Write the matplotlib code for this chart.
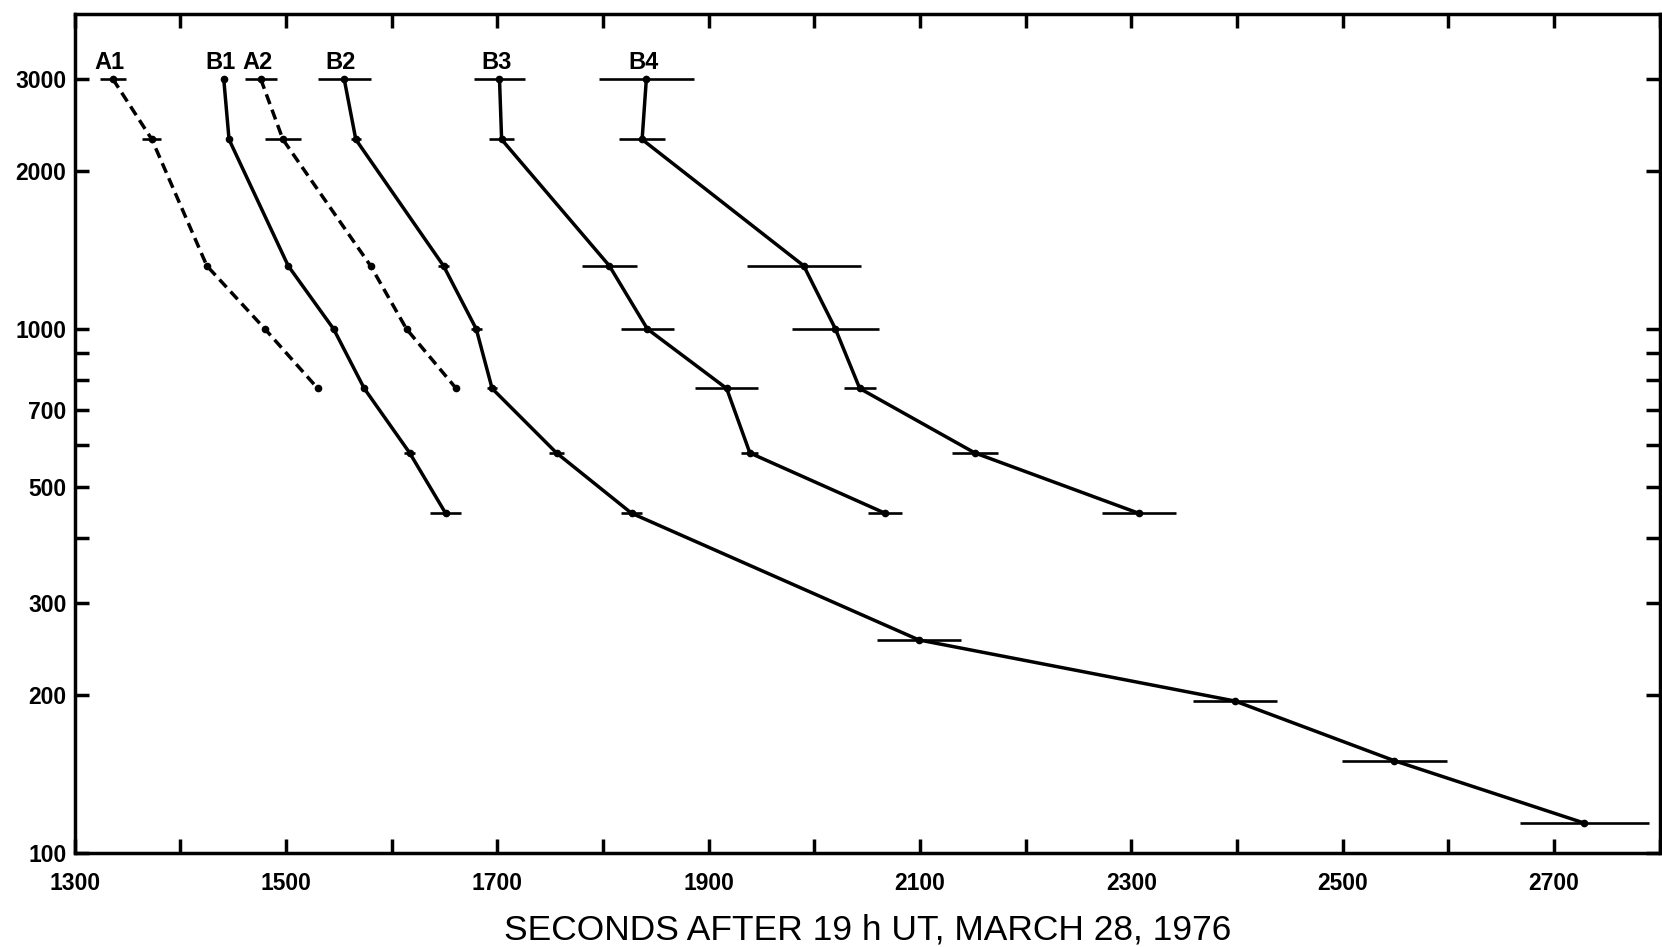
import matplotlib.pyplot as plt
from matplotlib.ticker import NullLocator

plt.rcParams['font.family'] = ['Liberation Sans', 'DejaVu Sans']

# frequency levels (y) shared by all tracks
levels = [3000, 2300, 1320, 1000, 770, 580, 445, 255, 195, 150, 114]

names = ['A1', 'B1', 'A2', 'B2', 'B3', 'B4']
a1_t = [1336, 1373, 1425, 1480, 1530]
a1_err = [12, 9, 0, 0, 0]
b1_t = [1441, 1446, 1502, 1545, 1574, 1617, 1651]
b1_err = [3, 3, 3, 3, 3, 5, 15]
a2_t = [1476, 1497, 1580, 1614, 1661]
a2_err = [15, 17, 0, 0, 0]
b2_t = [1555, 1566, 1649, 1680, 1695, 1756, 1827, 2099, 2398, 2549, 2729]
b2_err = [25, 5, 5, 5, 5, 7, 10, 40, 40, 50, 61]
b3_t = [1702, 1704, 1806, 1842, 1917, 1939, 2067]
b3_err = [24, 12, 26, 25, 30, 8, 16]
b4_t = [1841, 1837, 1990, 2020, 2043, 2152, 2307]
b4_err = [45, 22, 54, 41, 15, 22, 35]

times = [a1_t, b1_t, a2_t, b2_t, b3_t, b4_t]
errs = [a1_err, b1_err, a2_err, b2_err, b3_err, b4_err]

yticks = [100, 200, 300, 400, 500, 600, 700, 800, 900, 1000, 2000, 3000]
ylabels = ['100', '200', '300', '', '500', '', '700', '', '', '1000', '2000', '3000']
xticks = list(range(1300, 2801, 100))
xlabels = [str(v) if (v // 100) % 2 == 1 and v < 2800 else '' for v in xticks]

fig = plt.figure(figsize=(16.62, 9.47), dpi=100)
ax = fig.add_axes([0.045, 0.0993, 0.9535, 0.8864])

for name, t, e in zip(names, times, errs):
    y = levels[:len(t)]
    ls = '--' if name.startswith('A') else '-'
    line, = ax.plot(t, y, ls, color='black', lw=2.5, marker='o', ms=4.5)
    if ls == '--':
        line.set_dashes((3.0, 1.7))
    ax.errorbar(t, y, xerr=e, fmt='none', ecolor='black', elinewidth=1.9, capsize=0)
    ax.text(t[0] - 3, 3230, name, ha='center', va='center', fontsize=17, fontweight='bold')

ax.set_yscale('log')
ax.set_xlim(1300, 2800)
ax.set_ylim(100, 4000)
ax.set_yticks(yticks)
ax.set_yticklabels(ylabels, fontweight='bold')
ax.yaxis.set_minor_locator(NullLocator())
ax.set_xticks(xticks)
ax.set_xticklabels(xlabels, fontweight='bold')
ax.tick_params(direction='in', top=True, right=True, length=10, width=2.5,
               labelsize=16.5)
ax.tick_params(axis='y', pad=6)
ax.tick_params(axis='x', pad=14)
for s in ax.spines.values():
    s.set_linewidth(2.5)

ax.set_xlabel('SECONDS AFTER 19 h UT, MARCH 28, 1976', fontsize=25.5, labelpad=13)

fig.savefig('out.png', dpi=100)
